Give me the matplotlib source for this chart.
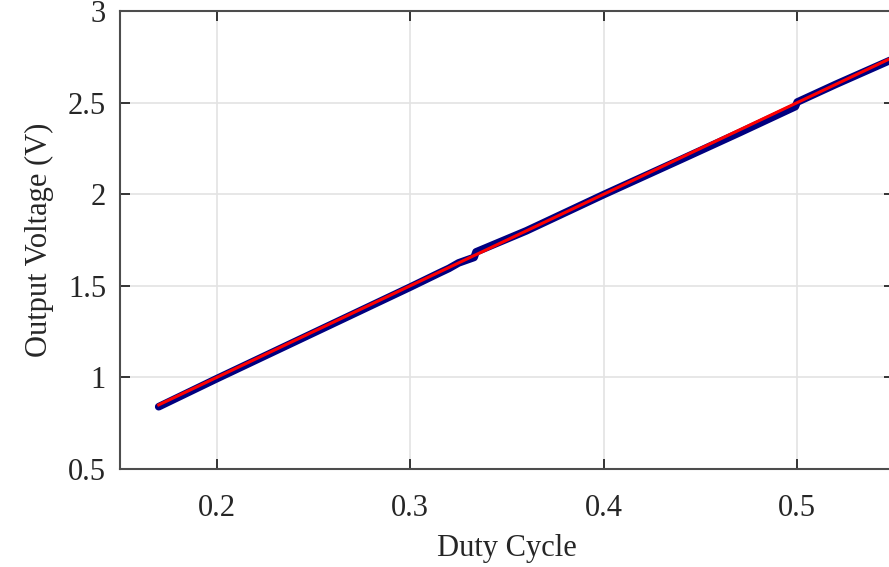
import matplotlib
matplotlib.use("Agg")
import matplotlib.pyplot as plt
import numpy as np

# duty cycle sweep, measured vs ideal output voltage
duty = [0.17, 0.20, 0.25, 0.30, 0.315, 0.32, 0.325, 0.333, 0.334, 0.36, 0.40,
        0.44, 0.47, 0.499, 0.500, 0.52, 0.55]
v_meas = [0.84, 0.993, 1.243, 1.493, 1.57, 1.595, 1.625, 1.655, 1.685, 1.80, 1.998,
          2.19, 2.335, 2.478, 2.503, 2.60, 2.74]
duty_ideal = [0.17, 0.55]
v_ideal = [0.85, 2.75]

plt.rcParams['font.family'] = ['Liberation Serif', 'DejaVu Serif']
plt.rcParams['font.size'] = 22

fig = plt.figure(figsize=(8.89, 5.67), dpi=100)
ax = fig.add_axes([120/889, 1 - 469/567, 774/889, 458/567])

ax.plot(duty, v_meas, color='#000080', lw=5.5, solid_capstyle='round')
ax.plot(duty_ideal, v_ideal, color='#ff0000', lw=2.2)

ax.set_xlim(0.15, 0.55)
ax.set_ylim(0.5, 3)
ax.set_xticks([0.2, 0.3, 0.4, 0.5])
ax.set_yticks([0.5, 1, 1.5, 2, 2.5, 3])
ax.set_yticklabels(['0.5', '1', '1.5', '2', '2.5', '3'])
ax.grid(True, color='#e3e3e3', lw=1.2)
ax.set_axisbelow(True)
ax.tick_params(direction='in', length=7, width=1.3, colors='#262626',
               labelcolor='#262626', top=True, right=True, pad=10)
ax.tick_params(axis='x', pad=18)
for s in ax.spines.values():
    s.set_color('#4d4d4d')
    s.set_linewidth(1.5)

ax.set_xlabel('Duty Cycle', color='#262626', labelpad=8)
ax.set_ylabel('Output Voltage (V)', color='#262626', labelpad=10)

plt.savefig('out.png', dpi=100)
